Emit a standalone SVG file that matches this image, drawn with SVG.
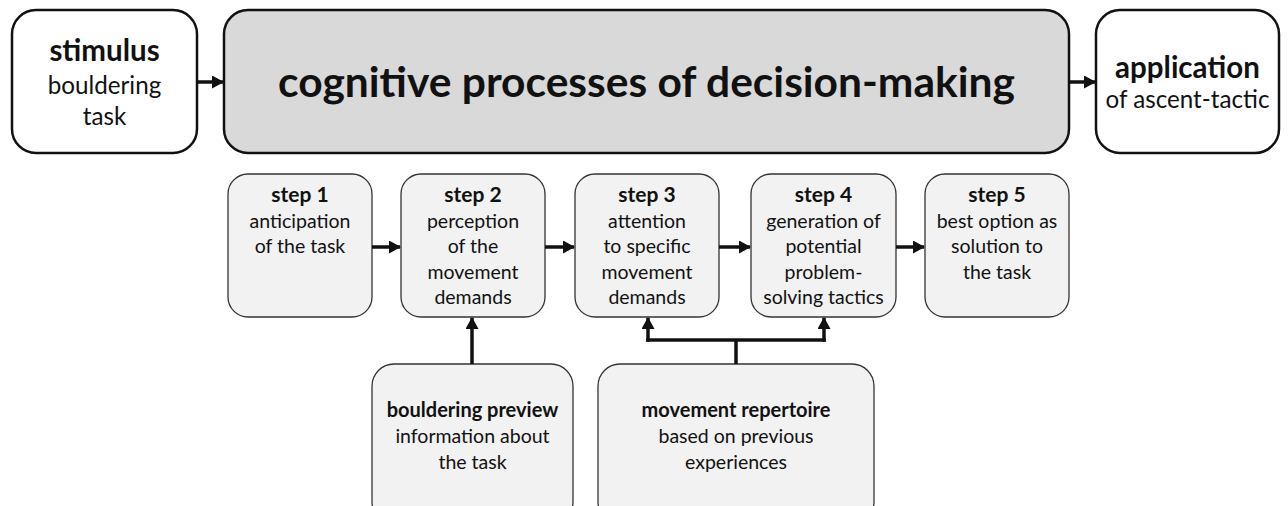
<svg xmlns="http://www.w3.org/2000/svg" width="1288" height="506" viewBox="0 0 1288 506">
  <style>
    text { font-family: Lato, "Open Sans", "Liberation Sans", sans-serif; fill: #111; text-anchor: middle; }
    .top { fill: #fff; stroke: #111; stroke-width: 2.5; }
    .main { fill: #d9d9d9; stroke: #111; stroke-width: 2.5; }
    .step { fill: #f2f2f2; stroke: #333; stroke-width: 1.3; }
    .head { font-size: 29.5px; font-weight: bold; }
    .sub { font-size: 24.2px; }
    .sh { font-size: 21px; font-weight: bold; }
    .st { font-size: 19.5px; }
    .bh { font-size: 20px; font-weight: bold; }
    .title { font-size: 42.5px; font-weight: bold; }
    .conn { fill: none; stroke: #111; stroke-width: 3.5; }
  </style>
  <defs>
    <marker id="arrow" markerWidth="14" markerHeight="14" refX="11" refY="6.5" orient="auto" markerUnits="userSpaceOnUse">
      <path d="M0,0 L12,6.5 L0,13 Z" fill="#111"/>
    </marker>
  </defs>

  <g id="stimulus">
    <rect class="top" x="12" y="10" width="185" height="143" rx="24"/>
    <text class="head" x="104.5" y="61">stimulus</text>
    <text class="sub" x="104.5" y="94">bouldering</text>
    <text class="sub" x="104.5" y="125">task</text>
  </g>

  <g id="decision-making">
    <rect class="main" x="224" y="10" width="845" height="143" rx="24"/>
    <text class="title" x="646.5" y="97">cognitive processes of decision-making</text>
  </g>

  <g id="application">
    <rect class="top" x="1096" y="10" width="183" height="143" rx="24"/>
    <text class="head" x="1187.5" y="78">application</text>
    <text class="sub" x="1187.5" y="108">of ascent-tactic</text>
  </g>

  <g id="step1">
    <rect class="step" x="228" y="174" width="144" height="143" rx="20"/>
    <text class="sh" x="300" y="202">step 1</text>
    <text class="st" x="300" y="227.5">anticipation</text>
    <text class="st" x="300" y="253">of the task</text>
  </g>

  <g id="step2">
    <rect class="step" x="401" y="174" width="144" height="143" rx="20"/>
    <text class="sh" x="473" y="202">step 2</text>
    <text class="st" x="473" y="227.5">perception</text>
    <text class="st" x="473" y="253">of the</text>
    <text class="st" x="473" y="278.5">movement</text>
    <text class="st" x="473" y="304">demands</text>
  </g>

  <g id="step3">
    <rect class="step" x="575" y="174" width="144" height="143" rx="20"/>
    <text class="sh" x="647" y="202">step 3</text>
    <text class="st" x="647" y="227.5">attention</text>
    <text class="st" x="647" y="253">to specific</text>
    <text class="st" x="647" y="278.5">movement</text>
    <text class="st" x="647" y="304">demands</text>
  </g>

  <g id="step4">
    <rect class="step" x="751" y="174" width="145" height="143" rx="20"/>
    <text class="sh" x="823.5" y="202">step 4</text>
    <text class="st" x="823.5" y="227.5">generation of</text>
    <text class="st" x="823.5" y="253">potential</text>
    <text class="st" x="823.5" y="278.5">problem-</text>
    <text class="st" x="823.5" y="304">solving tactics</text>
  </g>

  <g id="step5">
    <rect class="step" x="925" y="174" width="144" height="143" rx="20"/>
    <text class="sh" x="997" y="202">step 5</text>
    <text class="st" x="997" y="227.5">best option as</text>
    <text class="st" x="997" y="253">solution to</text>
    <text class="st" x="997" y="278.5">the task</text>
  </g>

  <g id="bouldering-preview">
    <rect class="step" x="372" y="364" width="201" height="160" rx="22"/>
    <text class="bh" x="472.5" y="417">bouldering preview</text>
    <text class="st" x="472.5" y="443">information about</text>
    <text class="st" x="472.5" y="469">the task</text>
  </g>

  <g id="movement-repertoire">
    <rect class="step" x="598" y="364" width="276" height="160" rx="22"/>
    <text class="bh" x="736" y="417">movement repertoire</text>
    <text class="st" x="736" y="443">based on previous</text>
    <text class="st" x="736" y="469">experiences</text>
  </g>

  <g id="connectors">
    <line class="conn" x1="197" y1="82" x2="223" y2="82" marker-end="url(#arrow)"/>
    <line class="conn" x1="1069" y1="82" x2="1095" y2="82" marker-end="url(#arrow)"/>
    <line class="conn" x1="372" y1="247" x2="400" y2="247" marker-end="url(#arrow)"/>
    <line class="conn" x1="545" y1="247" x2="574" y2="247" marker-end="url(#arrow)"/>
    <line class="conn" x1="719" y1="247" x2="750" y2="247" marker-end="url(#arrow)"/>
    <line class="conn" x1="896" y1="247" x2="924" y2="247" marker-end="url(#arrow)"/>
    <line class="conn" x1="472" y1="364" x2="472" y2="318" marker-end="url(#arrow)"/>
    <line class="conn" x1="736" y1="364" x2="736" y2="340"/>
    <line class="conn" x1="646.25" y1="340" x2="825.75" y2="340"/>
    <line class="conn" x1="648" y1="341.75" x2="648" y2="318" marker-end="url(#arrow)"/>
    <line class="conn" x1="824" y1="341.75" x2="824" y2="318" marker-end="url(#arrow)"/>
  </g>
</svg>
